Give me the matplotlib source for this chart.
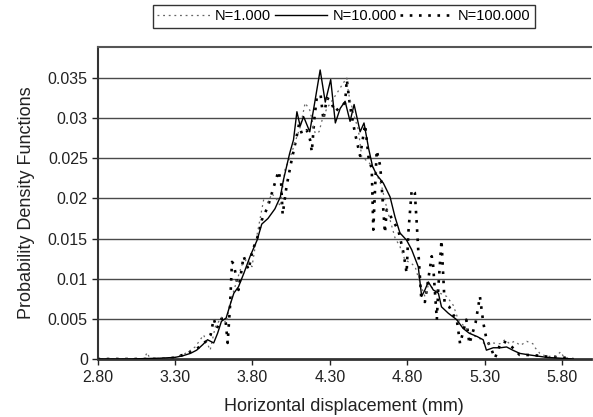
import matplotlib
matplotlib.use("Agg")
import matplotlib.pyplot as plt

plt.rcParams['font.family'] = ['Liberation Sans', 'DejaVu Sans']

# solid line, N=10.000
x_10k = [2.80, 3.00, 3.20, 3.30, 3.35, 3.40, 3.44, 3.48, 3.51, 3.55, 3.575, 3.60, 3.63,
         3.66, 3.68, 3.71, 3.745, 3.785, 3.83, 3.86, 3.90, 3.945, 3.98, 4.00, 4.04, 4.065,
         4.087, 4.108, 4.13, 4.17, 4.205, 4.237, 4.27, 4.305, 4.335, 4.366, 4.398, 4.43,
         4.456, 4.495, 4.52, 4.55, 4.575, 4.60, 4.645, 4.688, 4.72, 4.752, 4.795, 4.828,
         4.87, 4.892, 4.913, 4.935, 4.967, 5.00, 5.02, 5.064, 5.118, 5.16, 5.20, 5.25,
         5.289, 5.31, 5.354, 5.40, 5.44, 5.48, 5.525, 5.59, 5.70, 5.87]
y_10k = [0, 0, 0.0001, 0.0002, 0.0004, 0.0007, 0.0011, 0.0018, 0.0024, 0.0020, 0.0032,
         0.0047, 0.0051, 0.0070, 0.0082, 0.0090, 0.0107, 0.0128, 0.0148, 0.0168, 0.0175,
         0.0187, 0.0202, 0.0223, 0.0256, 0.0273, 0.0308, 0.0290, 0.0302, 0.0283, 0.0323,
         0.0360, 0.0320, 0.0348, 0.0294, 0.0312, 0.0321, 0.0296, 0.0317, 0.0283, 0.0294,
         0.0262, 0.0240, 0.0230, 0.0219, 0.0202, 0.0177, 0.0157, 0.0148, 0.0136, 0.0115,
         0.0078, 0.0086, 0.0096, 0.0086, 0.0082, 0.0065, 0.0057, 0.0049, 0.0038, 0.0032,
         0.0028, 0.0024, 0.0011, 0.0014, 0.0014, 0.0015, 0.0011, 0.0007, 0.0005, 0.0002, 0]

# fine grey dotted line, N=1.000
x_1k = [2.80, 3.10, 3.12, 3.14, 3.30, 3.38, 3.43, 3.485, 3.527, 3.56, 3.60, 3.63, 3.668,
        3.70, 3.732, 3.765, 3.797, 3.83, 3.872, 3.90, 3.926, 3.96, 3.98, 4.01, 4.05, 4.087,
        4.11, 4.14, 4.17, 4.205, 4.23, 4.25, 4.28, 4.345, 4.387, 4.409, 4.42, 4.452, 4.484,
        4.505, 4.55, 4.59, 4.634, 4.667, 4.72, 4.752, 4.785, 4.82, 4.85, 4.88, 4.913, 4.935,
        4.97, 5.01, 5.053, 5.096, 5.128, 5.17, 5.22, 5.27, 5.30, 5.35, 5.397, 5.43, 5.46,
        5.49, 5.53, 5.57, 5.61, 5.62, 5.655, 5.70, 5.76, 5.79, 5.81, 5.87]
y_1k = [0, 0, 0.0008, 0, 0.0002, 0.0008, 0.0015, 0.0030, 0.0011, 0.0040, 0.0052, 0.0045,
        0.0078, 0.0098, 0.0117, 0.0125, 0.0115, 0.0155, 0.0198, 0.0195, 0.0206, 0.0198,
        0.0190, 0.0236, 0.0255, 0.0277, 0.0290, 0.0319, 0.0310, 0.0281, 0.0283, 0.0298,
        0.0312, 0.0331, 0.0344, 0.0350, 0.0331, 0.0306, 0.0285, 0.0252, 0.0245, 0.0236,
        0.0215, 0.0188, 0.0151, 0.0140, 0.0123, 0.0120, 0.0115, 0.0095, 0.0078, 0.0092,
        0.0088, 0.0082, 0.0078, 0.0067, 0.0049, 0.0040, 0.0030, 0.0025, 0.0018, 0.0020,
        0.0019, 0.0024, 0.0019, 0.0022, 0.0017, 0.0022, 0.0019, 0.0015, 0.0007, 0.0003,
        0.0004, 0.0009, 0.0002, 0]

# heavy square-dotted line, N=100.000
x_100k = [2.80, 3.25, 3.30, 3.35, 3.40, 3.45, 3.50, 3.53, 3.55, 3.57, 3.60, 3.625, 3.64,
          3.655, 3.668, 3.68, 3.71, 3.743, 3.775, 3.80, 3.83, 3.86, 3.90, 3.926, 3.968,
          3.985, 3.995, 4.02, 4.05, 4.08, 4.10, 4.12, 4.15, 4.172, 4.183, 4.20, 4.216,
          4.24, 4.258, 4.28, 4.30, 4.334, 4.37, 4.398, 4.409, 4.43, 4.462, 4.495, 4.527,
          4.55, 4.57, 4.58, 4.602, 4.625, 4.655, 4.667, 4.70, 4.742, 4.775, 4.795, 4.806,
          4.828, 4.848, 4.86, 4.87, 4.89, 4.913, 4.957, 4.965, 4.99, 5.00, 5.02, 5.04,
          5.07, 5.096, 5.118, 5.14, 5.18, 5.20, 5.24, 5.268, 5.29, 5.31, 5.34, 5.365,
          5.40, 5.42, 5.45, 5.475, 5.525, 5.60, 5.655, 5.70, 5.80, 5.87]
y_100k = [0, 0, 0.0002, 0.0005, 0.0009, 0.0014, 0.0022, 0.0030, 0.0050, 0.0038, 0.0050,
          0.0051, 0.0020, 0.0065, 0.0121, 0.0118, 0.0086, 0.0128, 0.0111, 0.0135, 0.0150,
          0.0173, 0.0190, 0.0207, 0.0234, 0.0220, 0.0180, 0.0215, 0.0245, 0.0272, 0.0292,
          0.0280, 0.0285, 0.0273, 0.0258, 0.0300, 0.0327, 0.0329, 0.0298, 0.0325, 0.0323,
          0.0308, 0.0315, 0.0319, 0.0348, 0.0315, 0.0281, 0.0253, 0.0292, 0.0250, 0.0237,
          0.0161, 0.0260, 0.0240, 0.0157, 0.0186, 0.0175, 0.0160, 0.0132, 0.0107, 0.0157,
          0.0211, 0.0207, 0.0170, 0.0136, 0.0074, 0.0071, 0.0128, 0.0120, 0.0049, 0.0090,
          0.0148, 0.0070, 0.0065, 0.0055, 0.0050, 0.0019, 0.0049, 0.0019, 0.0045, 0.0078,
          0.0045, 0.0025, 0.0013, 0.0001, 0.0019, 0.0022, 0.0019, 0.0015, 0.0005, 0.0005,
          0.0004, 0.0003, 0.0002, 0]

x_ticks = [2.80, 3.30, 3.80, 4.30, 4.80, 5.30, 5.80]
y_ticks = [0, 0.005, 0.01, 0.015, 0.02, 0.025, 0.03, 0.035]
y_ticklabels = ['0', '0.005', '0.01', '0.015', '0.02', '0.025', '0.03', '0.035']

fig = plt.figure(figsize=(5.93, 4.17), dpi=100)
ax = fig.add_axes([97.5 / 593, 1 - 359 / 417, (591 - 97.5) / 593, (359 - 46.7) / 417])

for v in y_ticks[1:]:
    ax.axhline(v, color='#4a4a4a', lw=1.0, zorder=1)

l1, = ax.plot(x_1k, y_1k, color='#666666', lw=0.9, linestyle=(0, (1.5, 3.0)), zorder=3)
l2, = ax.plot(x_10k, y_10k, color='black', lw=1.0, zorder=4)
l3, = ax.plot(x_100k, y_100k, color='black', lw=1.9, linestyle=(0, (1, 2.5)), zorder=2)

ax.set_xlim(2.80, 5.985)
ax.set_ylim(0, 0.0389)
ax.set_xticks(x_ticks)
ax.set_xticklabels(['%.2f' % t for t in x_ticks])
ax.set_yticks(y_ticks)
ax.set_yticklabels(y_ticklabels)
ax.tick_params(labelsize=11.5, colors='#222222', length=4, width=1, direction='out')
ax.tick_params(axis='y', pad=3)
ax.tick_params(axis='x', pad=4)

ax.spines['right'].set_visible(False)
ax.spines['top'].set_color('#555555')
ax.spines['top'].set_linewidth(1.5)
ax.spines['left'].set_color('#333333')
ax.spines['left'].set_linewidth(1.5)
ax.spines['bottom'].set_color('#333333')
ax.spines['bottom'].set_linewidth(2.0)

ax.set_xlabel('Horizontal displacement (mm)', fontsize=13, color='#222222', labelpad=9)
ax.set_ylabel('Probability Density Functions', fontsize=13, color='#222222', labelpad=9)

leg = fig.legend([l1, l2, l3], ['N=1.000', 'N=10.000', 'N=100.000'],
                 loc='upper center', bbox_to_anchor=(344 / 593, 1 - 5 / 417),
                 bbox_transform=fig.transFigure, ncol=3, fontsize=10.5,
                 frameon=True, fancybox=False, borderpad=0.3, borderaxespad=0,
                 handlelength=3.6, handletextpad=0.35, columnspacing=0.25)
leg.get_frame().set_edgecolor('black')
leg.get_frame().set_linewidth(1.0)

fig.savefig('out.png', dpi=100)
